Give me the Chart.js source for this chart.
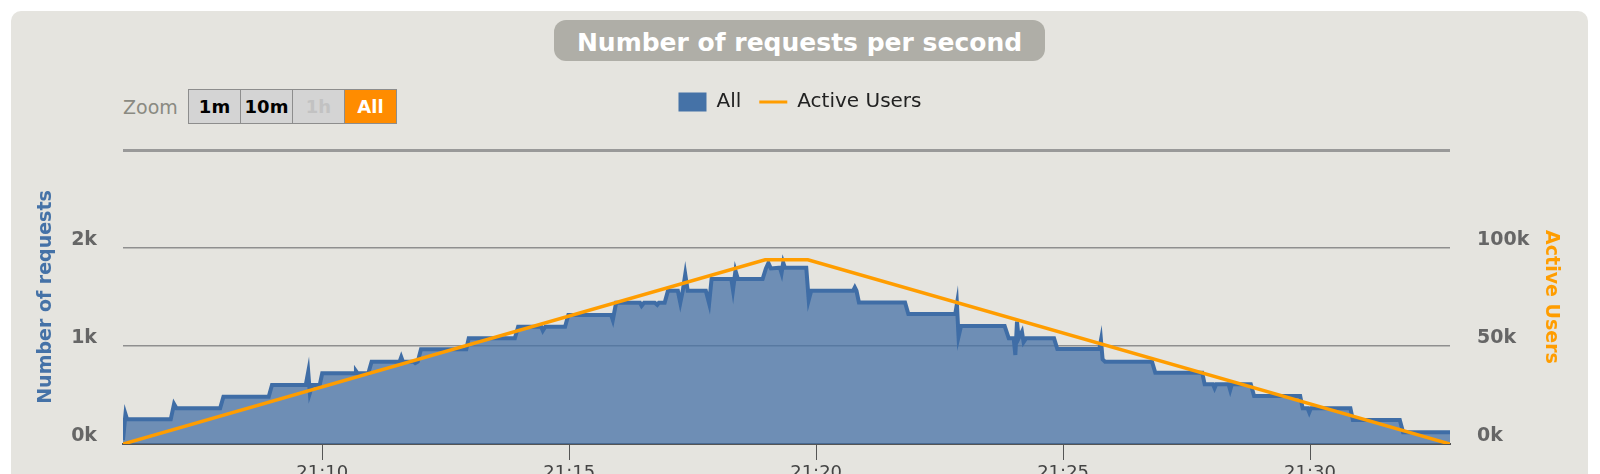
<!DOCTYPE html>
<html>
<head>
<meta charset="utf-8">
<script src="https://cdn.jsdelivr.net/npm/chart.js@4.4.1/dist/chart.umd.min.js"></script>
<style>
  html, body { margin: 0; padding: 0; background: #ffffff; overflow: hidden; width: 1600px; height: 474px; }
  .card { position: absolute; left: 11px; top: 11px; width: 1577px; height: 600px; background: #e5e4df; border-radius: 10px; }
  #chart { position: absolute; left: 0; top: 0; }
  .title {
    position: absolute; left: 554px; top: 20px; width: 491px; height: 41px;
    background: #afaea7; border-radius: 12px;
  }
  .title span {
    position: absolute; left: 0; right: 0; top: 8px; text-align: center; line-height: 30px;
    color: #fff; font: bold 25px "DejaVu Sans", sans-serif;
  }
  .zoom-label { position: absolute; left: 123px; top: 96px; font: 19px "DejaVu Sans", sans-serif; color: #8a8a82; }
  .zoom { position: absolute; left: 189px; top: 89px; display: flex; }
  .zoom div {
    position: relative; width: 51px; height: 33px; background: #d4d4d4;
    border: 1px solid #8d8d8d; margin-left: -1px;
  }
  .zoom div span {
    position: absolute; left: 0; right: 0; top: 6px; text-align: center; line-height: 24px;
    font: bold 18px "DejaVu Sans", sans-serif; color: #000;
  }
  .zoom div.off span { color: #c2c2c2; }
  .zoom div.on { background: #ff8c00; }
  .zoom div.on span { color: #fff; }
</style>
</head>
<body>
<div class="card"></div>
<div class="title"><span>Number of requests per second</span></div>
<div class="zoom-label">Zoom</div>
<div class="zoom"><div><span>1m</span></div><div><span>10m</span></div><div class="off"><span>1h</span></div><div class="on"><span>All</span></div></div>
<canvas id="chart" width="1600" height="520"></canvas>
<script>
// Requests per second (All)
const reqTimes = [
  "21:05:58", "21:06:01", "21:06:03", "21:06:56", "21:07:00", "21:07:03", "21:07:56", "21:08:00",
  "21:08:55", "21:08:59", "21:09:40", "21:09:43", "21:09:45", "21:09:48", "21:09:57", "21:10:00",
  "21:10:40", "21:10:41", "21:10:43", "21:10:56", "21:11:00", "21:11:34", "21:11:36", "21:11:38",
  "21:11:51", "21:11:53", "21:11:56", "21:12:00", "21:12:55", "21:12:58", "21:13:54", "21:13:58",
  "21:14:26", "21:14:28", "21:14:31", "21:14:55", "21:14:59", "21:15:51", "21:15:53", "21:15:57",
  "21:16:26", "21:16:28", "21:16:31", "21:16:44", "21:16:47", "21:16:49", "21:16:56", "21:17:00",
  "21:17:12", "21:17:15", "21:17:18", "21:17:21", "21:17:24", "21:17:46", "21:17:50", "21:17:53",
  "21:18:17", "21:18:19", "21:18:22", "21:18:25", "21:18:55", "21:18:59", "21:19:02", "21:19:05",
  "21:19:16", "21:19:18", "21:19:20", "21:19:22", "21:19:48", "21:19:51", "21:19:54", "21:20:45",
  "21:20:47", "21:20:49", "21:20:52", "21:21:48", "21:21:52", "21:22:49", "21:22:51", "21:22:53",
  "21:22:56", "21:23:49", "21:23:54", "21:24:00", "21:24:02", "21:24:04", "21:24:06", "21:24:10",
  "21:24:12", "21:24:15", "21:24:49", "21:24:53", "21:25:44", "21:25:46", "21:25:48", "21:25:51",
  "21:26:48", "21:26:52", "21:27:49", "21:27:52", "21:28:02", "21:28:04", "21:28:06", "21:28:21",
  "21:28:23", "21:28:25", "21:28:48", "21:28:52", "21:29:48", "21:29:51", "21:29:57", "21:29:59",
  "21:30:01", "21:30:49", "21:30:52", "21:31:49", "21:31:53", "21:32:50"
];
const reqValues = [
  40, 306, 252, 252, 408, 364, 364, 482,
  482, 602, 602, 737, 520, 602, 602, 721,
  721, 745, 721, 721, 840, 840, 887, 840,
  840, 826, 840, 966, 966, 1078, 1078, 1197,
  1197, 1156, 1197, 1197, 1316, 1316, 1265, 1441,
  1441, 1410, 1441, 1441, 1420, 1441, 1441, 1564,
  1564, 1441, 1564, 1731, 1564, 1564, 1435, 1683,
  1683, 1571, 1768, 1683, 1683, 1792, 1846, 1792,
  1799, 1744, 1850, 1799, 1799, 1469, 1564, 1564,
  1598, 1564, 1445, 1445, 1326, 1326, 1428, 1095,
  1204, 1204, 1078, 1078, 908, 1248, 1078, 1146,
  1040, 1078, 1078, 969, 969, 1061, 864, 840,
  840, 727, 727, 609, 609, 570, 609, 609,
  551, 609, 609, 490, 490, 364, 364, 322,
  364, 364, 245, 245, 119, 119
];

// Active users
const userTimes = ["21:05:58", "21:18:58", "21:19:50", "21:32:50"];
const userValues = [0, 94000, 94000, 0];

// Axes
const xStart = "21:05:58";
const xEnd = "21:32:50";
const xTickLabels = ["21:10", "21:15", "21:20", "21:25", "21:30"];
const leftMax = 3000;
const rightMax = 150000;

function toSec(t) {
  const p = t.split(":").map(Number);
  return p[0] * 3600 + p[1] * 60 + (p[2] || 0);
}
function pad(n) { return String(n).padStart(2, "0"); }

const reqPoints = reqTimes.map((t, i) => ({ x: toSec(t), y: reqValues[i] }));
const userPoints = userTimes.map((t, i) => ({ x: toSec(t), y: userValues[i] }));
const xTicks = xTickLabels.map(toSec);

const blue = "#4572A7";
const orange = "#FF9D00";

Chart.defaults.font.family = "'DejaVu Sans', sans-serif";

// legend height fixed so the plot starts right under it
const legendSpace = {
  id: "legendSpace",
  beforeInit(chart) {
    const fit = chart.legend.fit;
    chart.legend.fit = function () {
      fit.call(this);
      this.height = 76;
    };
  },
};

new Chart(document.getElementById("chart").getContext("2d"), {
  type: "line",
  data: {
    datasets: [
      {
        label: "All",
        data: reqPoints,
        yAxisID: "y",
        borderColor: "#3f6da6",
        backgroundColor: "rgba(69, 114, 167, 0.75)",
        borderWidth: 4,
        fill: "origin",
        pointRadius: 0,
        tension: 0,
        order: 1,
      },
      {
        label: "Active Users",
        data: userPoints,
        yAxisID: "y2",
        borderColor: orange,
        borderWidth: 3.5,
        fill: false,
        pointRadius: 0,
        tension: 0,
        order: 0,
      },
    ],
  },
  options: {
    responsive: false,
    animation: false,
    devicePixelRatio: 1,
    events: [],
    layout: { padding: { top: 74, left: 0, right: 0, bottom: 0 } },
    plugins: {
      tooltip: { enabled: false },
      legend: {
        position: "top",
        labels: {
          usePointStyle: true,
          pointStyleWidth: 28,
          boxHeight: 19,
          padding: 18,
          color: "#222",
          font: { size: 20 },
          generateLabels: () => [
            { text: "All", fillStyle: blue, strokeStyle: blue, lineWidth: 0, pointStyle: "rect", hidden: false, datasetIndex: 0, fontColor: "#222" },
            { text: "Active Users", fillStyle: orange, strokeStyle: orange, lineWidth: 3, pointStyle: "line", hidden: false, datasetIndex: 1, fontColor: "#222" },
          ],
        },
      },
    },
    scales: {
      x: {
        type: "linear",
        min: toSec(xStart),
        max: toSec(xEnd),
        afterBuildTicks: (s) => { s.ticks = xTicks.map((v) => ({ value: v })); },
        afterFit: (s) => { s.height = 76; },
        ticks: {
          color: "#444",
          font: { size: 18 },
          padding: 3,
          maxRotation: 0,
          autoSkip: false,
          callback: (v) => pad(Math.floor(v / 3600)) + ":" + pad(Math.floor((v % 3600) / 60)),
        },
        grid: { drawOnChartArea: false, drawTicks: true, tickLength: 16, color: "#555", lineWidth: 1 },
        border: { display: true, color: "#555", width: 2 },
      },
      y: {
        position: "left",
        min: 0,
        max: leftMax,
        afterFit: (s) => { s.width = 123; },
        ticks: {
          stepSize: 1000,
          color: "#666",
          font: { size: 19, weight: "bold" },
          padding: 26,
          labelOffset: -8,
          callback: (v) => (v === leftMax ? "" : v / 1000 + "k"),
        },
        grid: {
          drawTicks: false,
          color: (c) => (c.tick.value === 0 ? "rgba(0,0,0,0)" : c.tick.value === leftMax ? "#999" : "#8f8f8f"),
          lineWidth: (c) => (c.tick.value === leftMax ? 3 : 1.5),
        },
        border: { display: false },
        title: {
          display: true,
          text: "Number of requests",
          color: blue,
          font: { size: 19, weight: "bold" },
          padding: { top: 35, bottom: 0 },
        },
      },
      y2: {
        position: "right",
        min: 0,
        max: rightMax,
        afterFit: (s) => { s.width = 150; },
        ticks: {
          stepSize: 50000,
          color: "#666",
          font: { size: 19, weight: "bold" },
          padding: 27,
          labelOffset: -8,
          callback: (v) => (v === rightMax ? "" : v / 1000 + "k"),
        },
        grid: { display: false, drawTicks: false },
        border: { display: false },
        title: {
          display: true,
          text: "Active Users",
          color: orange,
          font: { size: 19, weight: "bold" },
          padding: { top: 38, bottom: 0 },
        },
      },
    },
  },
  plugins: [legendSpace],
});
</script>
</body>
</html>
